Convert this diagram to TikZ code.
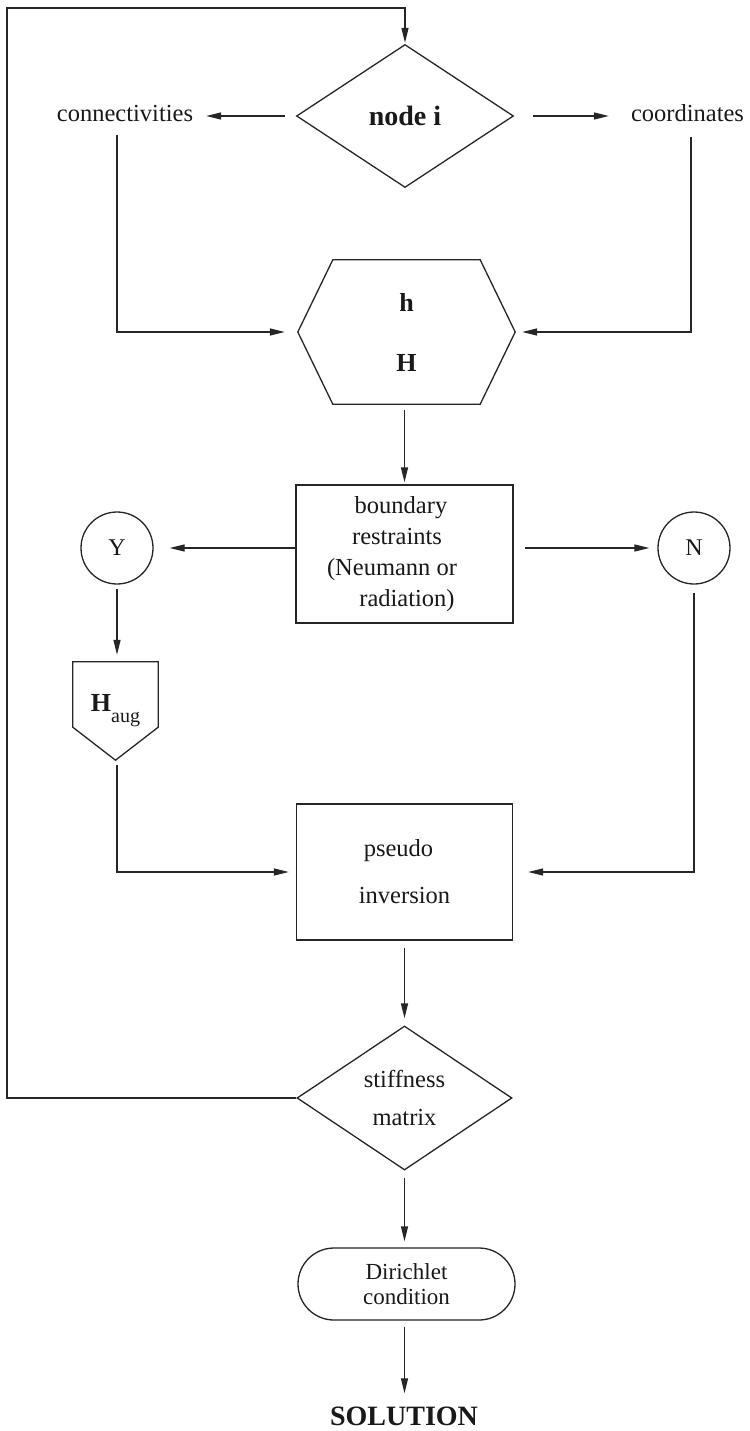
\documentclass[tikz,border=0pt]{standalone}
\usepackage{fontspec}
\setmainfont{Liberation Serif}
\usetikzlibrary{arrows.meta,shapes.geometric,shapes.misc,calc}

\begin{document}
\begin{tikzpicture}[x=1pt,y=-1pt,
  line/.style={draw=black!85, line width=1.3pt},
  arr/.style={line, -{Triangle[length=15pt,width=7pt]}},
  txt/.style={font=\fontsize{24.5}{31}\selectfont, text=black!90, inner sep=0pt},
  bold/.style={font=\fontsize{28}{34}\selectfont\bfseries, text=black!90, inner sep=0pt},
  decision/.style={diamond, line, inner sep=0pt, text=black!90, align=center},
  stepbox/.style={rectangle, line, inner sep=0pt, text=black!90, align=center},
  answer/.style={circle, line, minimum size=72pt, inner sep=0pt, text=black!90,
                 font=\fontsize{24}{28}\selectfont},
  frame/.style={inner sep=0pt, text=black!90, align=center}
]
\useasboundingbox (0,0) rectangle (749,1431);
\fill[white] (0,0) rectangle (749,1431);

% element loop entry
\node[decision, bold, minimum width=217pt, minimum height=143pt] (nodei) at (405,116) {node i};
\node[txt, anchor=base] (conn)  at (125,122) {connectivities};
\node[txt, anchor=base] (coord) at (687.5,122) {coordinates};

% local matrices (hexagon)
\node[frame, minimum width=217pt, minimum height=144pt,
      font=\fontsize{26}{60}\selectfont\bfseries] (hex) at (406.5,332) {h\\H};
\draw[line] (hex.west) -- ([xshift=35pt]hex.north west) -- ([xshift=-35pt]hex.north east)
  -- (hex.east) -- ([xshift=-35pt]hex.south east) -- ([xshift=35pt]hex.south west) -- cycle;

% boundary check
\node[stepbox, minimum width=217pt, minimum height=138pt, font=\fontsize{24.5}{31}\selectfont]
  (bnd) at (404.5,554)
  {\hspace*{-7pt}boundary\\\hspace*{-15pt}restraints\\\hspace*{-25pt}(Neumann or\\\hspace*{5pt}radiation)};
\node[answer] (Y) at (117,548) {Y};
\node[answer] (N) at (694,548) {N};

% augmented matrix (pentagon)
\node[frame, minimum width=85pt, minimum height=98pt] (haug) at (115.5,711)
  {\raisebox{4pt}{\fontsize{26}{26}\selectfont\bfseries H}\lower7pt\hbox{\fontsize{20}{20}\selectfont aug}};
\draw[line] (haug.north west) -- (haug.north east) -- ([yshift=33pt]haug.south east)
  -- (haug.south) -- ([yshift=33pt]haug.south west) -- cycle;

% assembly
\node[stepbox, minimum width=216pt, minimum height=136pt, font=\fontsize{24.5}{47}\selectfont]
  (pseudo) at (404.5,872) {\hspace*{-12pt}pseudo\\inversion};
\node[decision, minimum width=215pt, minimum height=144pt, font=\fontsize{24.5}{38}\selectfont]
  (stiff) at (404.5,1098) {stiffness\\matrix};
\node[rounded rectangle, line, minimum width=217pt, minimum height=72pt, inner sep=0pt,
      text=black!90, align=center, font=\fontsize{23}{25}\selectfont]
  (dir) at (406.5,1284) {Dirichlet\\condition};
\node[bold, anchor=base] (sol) at (404,1425) {SOLUTION};

% connectors
\coordinate (lpT) at (7,8);
\coordinate (c1) at (117,135);
\coordinate (c2) at (691,137);

\draw[arr, shorten >=1pt] (stiff.west) -| (lpT) -| (nodei.north);
\draw[arr, shorten <=11pt, shorten >=13pt] (nodei.west) -- (conn.east |- nodei.west);
\draw[arr, shorten <=19pt, shorten >=22pt] (nodei.east) -- (coord.west |- nodei.east);
\draw[arr, shorten >=13pt] (c1) |- (hex.west);
\draw[arr, shorten >=7pt] (c2) |- (hex.east);
\draw[arr, shorten <=6pt, shorten >=2pt] (bnd.north |- hex.south) -- (bnd.north);
\draw[arr, shorten >=16pt] (bnd.west |- Y.east) -- (Y.east);
\draw[arr, shorten <=11pt, shorten >=8pt] (bnd.east |- N.west) -- (N.west);
\draw[arr, shorten <=4pt, shorten >=7pt] (Y.south) -- (Y.south |- haug.north);
\draw[arr, shorten <=5pt, shorten >=7pt] (Y.south |- haug.south) |- (pseudo.west);
\draw[arr, shorten <=8pt, shorten >=15pt] (N.south) |- (pseudo.east);
\draw[arr, shorten <=7pt, shorten >=7pt] (pseudo.south) -- (stiff.north);
\draw[arr, shorten <=7pt, shorten >=6pt] (stiff.south) -- (stiff.south |- dir.north);
\draw[arr, shorten <=6pt, shorten >=13pt] (stiff.south |- dir.south) -- (stiff.south |- sol.north);
\end{tikzpicture}
\end{document}
